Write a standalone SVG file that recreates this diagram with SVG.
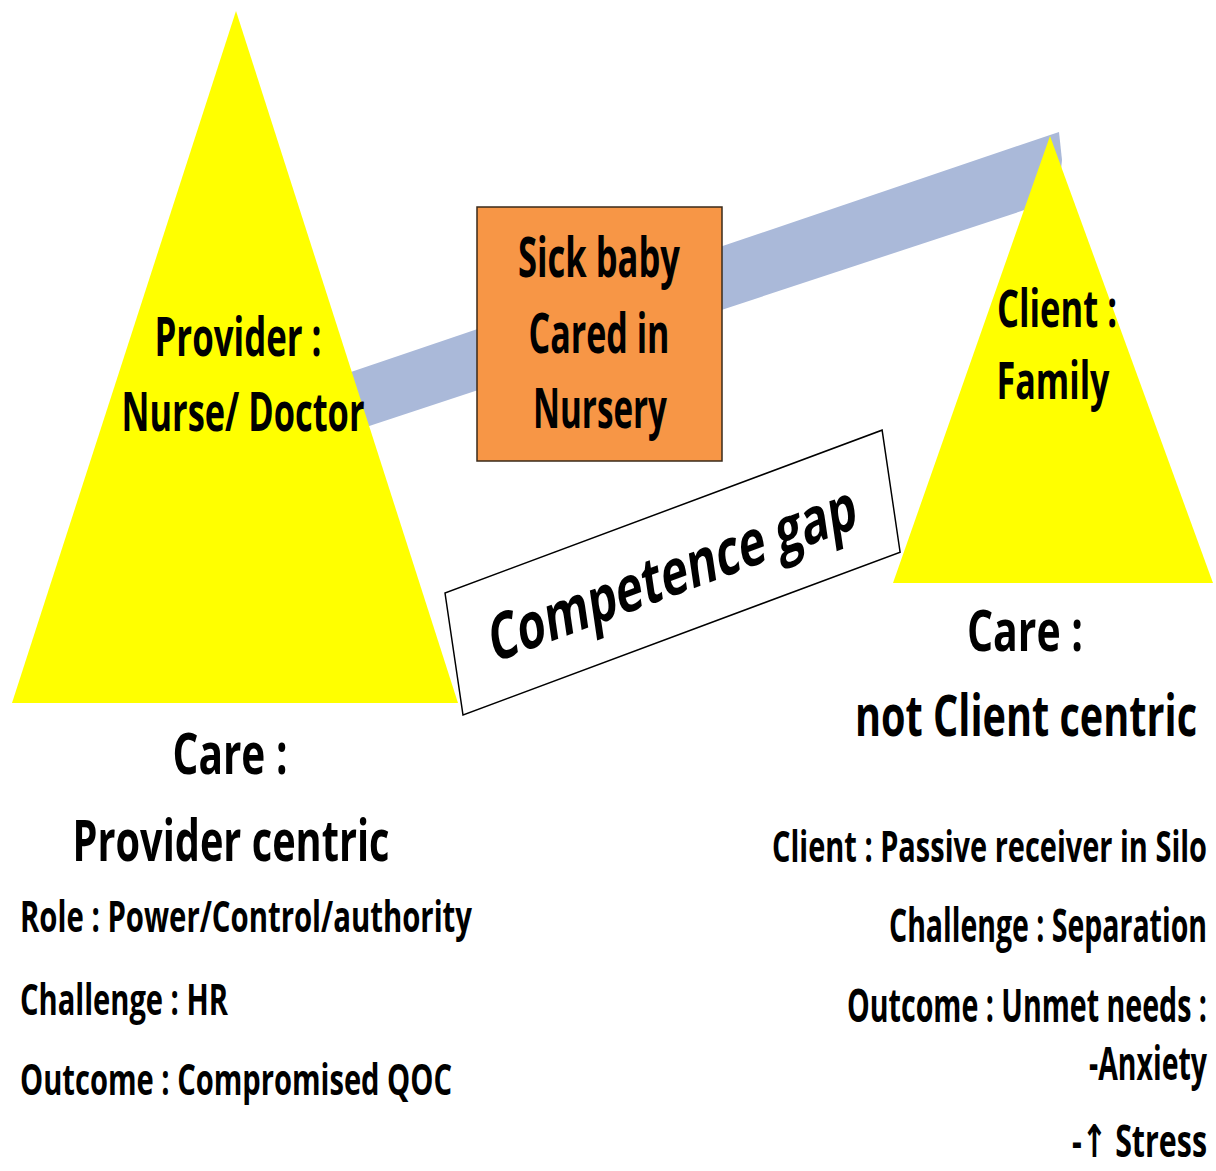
<svg xmlns="http://www.w3.org/2000/svg" width="1216" height="1171" viewBox="0 0 1216 1171">
  <style>
    .lbl { font-family: "Open Sans", "Noto Sans", "DejaVu Sans", sans-serif; font-weight: bold; fill: #000; }
    .mid { text-anchor: middle; }
    .end { text-anchor: end; }
    .tri { fill: #FFFF00; }
  </style>
  <rect x="0" y="0" width="1216" height="1171" fill="#FFFFFF"/>

  <!-- link band joining the two parties -->
  <g id="connectors">
    <polygon points="345,374 1050,135 1059,132 1062,160 1058,199 345,434" fill="#AAB9D9"/>
  </g>

  <!-- provider side (labels are set in a tall, narrow face: stretched vertically) -->
  <g id="provider">
    <polygon class="tri" points="236,11 458,703 12,703"/>
    <text class="lbl mid" transform="translate(238 356) scale(1 1.45)" font-size="37" textLength="167" lengthAdjust="spacingAndGlyphs">Provider :</text>
    <text class="lbl mid" transform="translate(243 431) scale(1 1.45)" font-size="37" textLength="243" lengthAdjust="spacingAndGlyphs">Nurse/ Doctor</text>
  </g>

  <!-- client side -->
  <g id="client">
    <polygon class="tri" points="1050,136 1213,583 893,583"/>
    <text class="lbl mid" transform="translate(1057 327) scale(1 1.45)" font-size="36" textLength="120" lengthAdjust="spacingAndGlyphs">Client :</text>
    <text class="lbl mid" transform="translate(1053 399) scale(1 1.45)" font-size="36" textLength="113" lengthAdjust="spacingAndGlyphs">Family</text>
  </g>

  <!-- the baby in the nursery -->
  <g id="baby">
    <rect x="477" y="207" width="245" height="254" fill="#F79646" stroke="#3A2A1A" stroke-width="1.5"/>
    <text class="lbl mid" transform="translate(599 277) scale(1 1.45)" font-size="38" textLength="162" lengthAdjust="spacingAndGlyphs">Sick baby</text>
    <text class="lbl mid" transform="translate(599 353) scale(1 1.45)" font-size="38" textLength="141" lengthAdjust="spacingAndGlyphs">Cared in</text>
    <text class="lbl mid" transform="translate(600 428) scale(1 1.45)" font-size="38" textLength="134" lengthAdjust="spacingAndGlyphs">Nursery</text>
  </g>

  <!-- tilted gap label -->
  <g id="gap" transform="matrix(0.934 -0.348 0.15 1.017 445 593)">
    <rect x="0" y="0" width="468" height="120" fill="#FFFFFF" stroke="#000" stroke-width="1.5"/>
    <text class="lbl mid" transform="translate(234 82) scale(1 1.45)" font-size="43" textLength="392" lengthAdjust="spacingAndGlyphs">Competence gap</text>
  </g>

  <!-- provider-side notes -->
  <g id="provider-notes">
    <text class="lbl mid" transform="translate(230 774) scale(1 1.45)" font-size="40" textLength="115" lengthAdjust="spacingAndGlyphs">Care :</text>
    <text class="lbl mid" transform="translate(231 861) scale(1 1.45)" font-size="40" textLength="317" lengthAdjust="spacingAndGlyphs">Provider centric</text>
    <text class="lbl" transform="translate(20 932) scale(1 1.5)" font-size="29" textLength="452" lengthAdjust="spacingAndGlyphs">Role : Power/Control/authority</text>
    <text class="lbl" transform="translate(20 1015) scale(1 1.5)" font-size="29" textLength="208" lengthAdjust="spacingAndGlyphs">Challenge : HR</text>
    <text class="lbl" transform="translate(20 1095) scale(1 1.5)" font-size="29" textLength="432" lengthAdjust="spacingAndGlyphs">Outcome : Compromised QOC</text>
  </g>

  <!-- client-side notes -->
  <g id="client-notes">
    <text class="lbl mid" transform="translate(1025 651) scale(1 1.45)" font-size="40" textLength="116" lengthAdjust="spacingAndGlyphs">Care :</text>
    <text class="lbl mid" transform="translate(1026 736) scale(1 1.45)" font-size="40" textLength="342" lengthAdjust="spacingAndGlyphs">not Client centric</text>
    <text class="lbl end" transform="translate(1207 862) scale(1 1.55)" font-size="28" textLength="435" lengthAdjust="spacingAndGlyphs">Client :  Passive receiver in Silo</text>
    <text class="lbl end" transform="translate(1207 942) scale(1 1.6)" font-size="29" textLength="318" lengthAdjust="spacingAndGlyphs">Challenge : Separation</text>
    <text class="lbl end" transform="translate(1207 1022) scale(1 1.6)" font-size="29" textLength="360" lengthAdjust="spacingAndGlyphs">Outcome : Unmet needs :</text>
    <text class="lbl end" transform="translate(1207 1080) scale(1 1.6)" font-size="29" textLength="118" lengthAdjust="spacingAndGlyphs">-Anxiety</text>
    <text class="lbl end" transform="translate(1207 1157) scale(1 1.55)" font-size="29" textLength="135" lengthAdjust="spacingAndGlyphs">-↑ Stress</text>
  </g>
</svg>
